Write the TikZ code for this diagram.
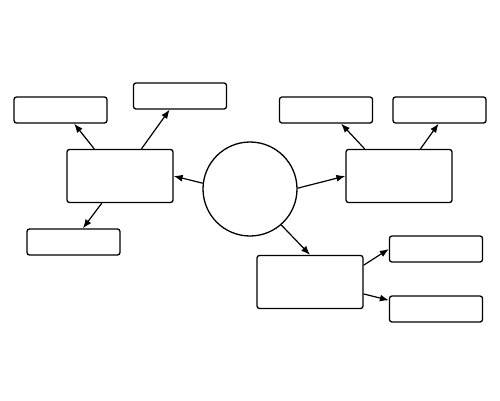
\documentclass[tikz,border=0pt]{standalone}
\usetikzlibrary{calc,arrows.meta}
\begin{document}
\begin{tikzpicture}[x=1pt,y=-1pt,
  box/.style={draw, line width=1.3pt, rounded corners=2.5pt, minimum width=93pt, minimum height=26pt, inner sep=0pt},
  big/.style={box, minimum width=106pt, minimum height=53pt},
  hub/.style={draw, circle, line width=1.3pt, minimum size=94pt, inner sep=0pt},
  arr/.style={-{Latex[length=9pt,width=7pt]}, line width=1.2pt}]
\useasboundingbox (0,0) rectangle (500,400);
\node[hub] (c) at (250,189) {};
\node[big] (L) at (120,176) {};
\node[big] (R) at (399,176) {};
\node[big] (B) at (310,282) {};
\node[box] (TL1) at (60.5,110) {};
\node[box] (TL2) at (180,96) {};
\node[box] (LB) at (73.5,242) {};
\node[box] (TR1) at (326,110) {};
\node[box] (TR2) at (439.5,110) {};
\node[box] (BR1) at (436,249) {};
\node[box] (BR2) at (436,309) {};
\draw[arr] (c.173) -- (L.east);
\draw[arr] (c.1) -- (R.west);
\draw[arr] (c.-49) -- (B.north);
\draw[arr] ($(L.north west)!0.26!(L.north east)$) -- ($(TL1.south west)!0.645!(TL1.south east)$);
\draw[arr] ($(L.north west)!0.70!(L.north east)$) -- ($(TL2.south west)!0.39!(TL2.south east)$);
\draw[arr] ($(L.south west)!0.33!(L.south east)$) -- ($(LB.north west)!0.6!(LB.north east)$);
\draw[arr] ($(R.north west)!0.18!(R.north east)$) -- ($(TR1.south west)!0.66!(TR1.south east)$);
\draw[arr] ($(R.north west)!0.70!(R.north east)$) -- ($(TR2.south west)!0.49!(TR2.south east)$);
\draw[arr] ($(B.north east)!0.19!(B.south east)$) -- (BR1.west);
\draw[arr] ($(B.north east)!0.72!(B.south east)$) -- ($(BR2.north west)!0.18!(BR2.south west)$);
\end{tikzpicture}
\end{document}
